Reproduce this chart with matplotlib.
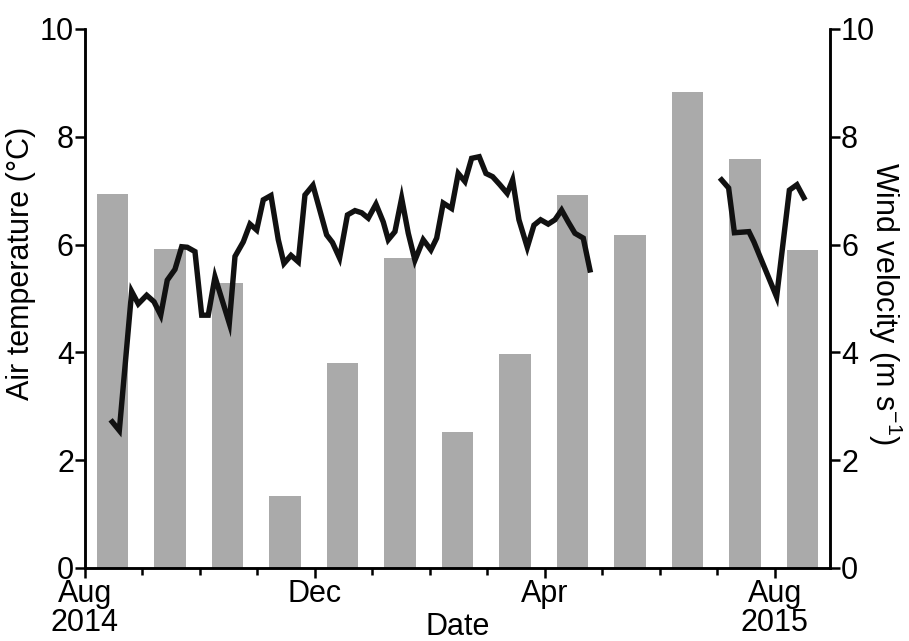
import matplotlib
matplotlib.use('Agg')
import matplotlib.pyplot as plt

plt.rcParams['font.family'] = ['Liberation Sans', 'DejaVu Sans']
plt.rcParams['font.size'] = 22
plt.rcParams['mathtext.fontset'] = 'custom'
plt.rcParams['mathtext.rm'] = 'Liberation Sans'
plt.rcParams['mathtext.it'] = 'Liberation Sans'

# months since 1 Aug 2014
wind_month = [0.48, 1.48, 2.48, 3.48, 4.48, 5.48, 6.48, 7.48, 8.48, 9.48, 10.48, 11.48, 12.48]
wind_speed = [6.94, 5.92, 5.29, 1.34, 3.80, 5.75, 2.52, 3.97, 6.92, 6.18, 8.83, 7.59, 5.90]

# air temperature, first record (Aug 2014 - Apr 2015)
temp_month_1 = [0.475, 0.597, 0.812, 0.927, 1.073, 1.200, 1.317, 1.431, 1.565, 1.682,
                1.779, 1.913, 2.030, 2.144, 2.261, 2.510, 2.609, 2.753, 2.870, 2.986,
                3.101, 3.235, 3.362, 3.461, 3.583, 3.710, 3.826, 3.965, 4.203, 4.304,
                4.428, 4.565, 4.696, 4.812, 4.927, 5.061, 5.188, 5.275, 5.391, 5.508,
                5.623, 5.739, 5.883, 6.017, 6.117, 6.231, 6.377, 6.492, 6.609, 6.725,
                6.857, 6.974, 7.090, 7.217, 7.344, 7.438, 7.548, 7.693, 7.809, 7.925,
                8.057, 8.174, 8.290, 8.405, 8.522, 8.667, 8.783]
temp_1 = [2.71, 2.55, 5.13, 4.90, 5.06, 4.94, 4.69, 5.34, 5.54, 5.96,
          5.95, 5.87, 4.69, 4.69, 5.40, 4.54, 5.78, 6.05, 6.38, 6.27,
          6.83, 6.91, 6.09, 5.65, 5.80, 5.68, 6.92, 7.10, 6.18, 6.04,
          5.75, 6.55, 6.63, 6.59, 6.49, 6.75, 6.42, 6.09, 6.24, 6.86,
          6.21, 5.71, 6.09, 5.90, 6.12, 6.77, 6.67, 7.32, 7.17, 7.60,
          7.63, 7.32, 7.26, 7.11, 6.95, 7.20, 6.46, 5.95, 6.36, 6.46,
          6.38, 6.46, 6.64, 6.42, 6.21, 6.12, 5.53]

# second record (Jul - Aug 2015)
temp_month_2 = [11.073, 11.195, 11.296, 11.548, 11.635, 12.030, 12.252, 12.383, 12.504]
temp_2 = [7.20, 7.05, 6.22, 6.24, 6.05, 5.03, 7.01, 7.11, 6.87]

major_ticks = [0, 4, 8, 12]
major_labels = ['Aug\n2014', 'Dec', 'Apr', 'Aug\n2015']
minor_ticks = list(range(13))

fig = plt.figure(figsize=(9.09, 6.41), dpi=100)
ax = fig.add_axes([0.0935, 0.1139, 0.8195, 0.8409])
ax2 = ax.twinx()

ax2.bar(wind_month, wind_speed, width=0.55, color='#aaaaaa', zorder=1)
ax.set_zorder(ax2.get_zorder() + 1)
ax.patch.set_visible(False)

ax.plot(temp_month_1, temp_1, color='#111111', lw=3.9, solid_joinstyle='miter')
ax.plot(temp_month_2, temp_2, color='#111111', lw=3.9, solid_joinstyle='miter')

ax.set_xlim(0, 12.957)
ax.set_ylim(0, 10)
ax2.set_ylim(0, 10)
ax.set_yticks([0, 2, 4, 6, 8, 10])
ax2.set_yticks([0, 2, 4, 6, 8, 10])

ax.set_xticks(major_ticks)
ax.set_xticklabels(major_labels, linespacing=0.95)
ax.set_xticks(minor_ticks, minor=True)

for a in (ax, ax2):
    a.spines['top'].set_visible(False)
    for s in a.spines.values():
        s.set_linewidth(1.8)
ax.tick_params(axis='both', which='major', length=7, width=1.8, pad=1, labelsize=22)
ax.tick_params(axis='x', which='minor', length=5, width=1.8)
ax2.tick_params(axis='y', which='major', length=7, width=1.8, pad=1, labelsize=22)

ax.set_ylabel('Air temperature (°C)', fontsize=22)
ax.yaxis.set_label_coords(-0.066, 0.565)
ax2.set_ylabel('Wind velocity (m s$^{-1}$)', fontsize=22, rotation=270)
ax2.yaxis.set_label_coords(1.10, 0.49)
ax.text(0.5, -0.11, 'Date', transform=ax.transAxes, ha='center', va='center', fontsize=22)

fig.savefig('out.png', dpi=100)
